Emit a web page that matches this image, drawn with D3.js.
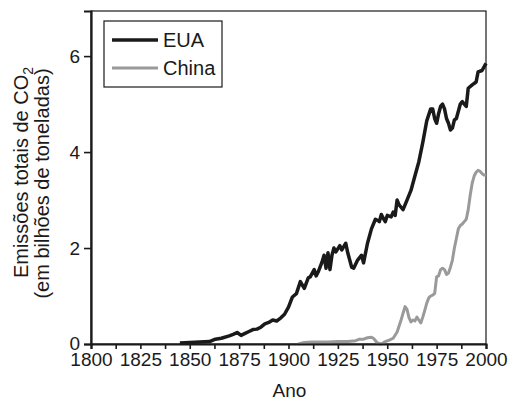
<!doctype html>
<meta charset="utf-8">
<title>Emissões de CO2</title>
<script src="https://cdn.jsdelivr.net/npm/d3@7"></script>
<style>
  body { margin: 0; background: #fff; }
  text { font-family: "Liberation Sans", Arial, sans-serif; fill: #1a1a1a; }
</style>
<body>
<div id="chart"></div>
<script>

// anos e valores (bilhões de toneladas)
var euaAnos = [1845, 1850, 1855, 1860, 1863, 1866, 1870, 1872, 1874, 1876, 1878, 1880, 1882, 1884, 1886, 1888,
  1890, 1892, 1894, 1896, 1898, 1900, 1902, 1904, 1906, 1908, 1910, 1911, 1913, 1914, 1915, 1917, 1918, 1919,
  1920, 1921, 1922, 1923, 1924, 1926, 1927, 1929, 1930, 1932, 1933, 1935, 1937, 1938, 1940, 1942, 1944, 1945,
  1946, 1947, 1948, 1949, 1950, 1952, 1953, 1954, 1955, 1956, 1957, 1958, 1960, 1962, 1964, 1966, 1968, 1970,
  1972, 1973, 1974, 1975, 1976, 1977, 1978, 1979, 1980, 1981, 1982, 1983, 1984, 1985, 1987, 1988, 1989, 1990,
  1991, 1993, 1995, 1996, 1998, 2000];
var euaValores = [0.02, 0.03, 0.04, 0.05, 0.1, 0.12, 0.17, 0.2, 0.24, 0.18, 0.22, 0.26, 0.3, 0.31, 0.35, 0.42,
  0.45, 0.5, 0.48, 0.54, 0.62, 0.77, 0.98, 1.05, 1.3, 1.16, 1.38, 1.4, 1.55, 1.42, 1.5, 1.71, 1.85, 1.58,
  1.9, 1.55, 1.85, 2.0, 1.92, 2.05, 1.96, 2.1, 1.9, 1.6, 1.58, 1.75, 1.85, 1.69, 2.1, 2.4, 2.6, 2.58,
  2.55, 2.7, 2.62, 2.55, 2.68, 2.65, 2.75, 2.68, 3.0, 2.9, 2.85, 2.8, 3.0, 3.2, 3.5, 3.8, 4.2, 4.65,
  4.9, 4.9, 4.7, 4.6, 4.8, 4.95, 5.0, 4.9, 4.7, 4.6, 4.46, 4.5, 4.67, 4.7, 5.0, 5.05, 5.0, 4.95,
  5.33, 5.4, 5.46, 5.67, 5.7, 5.85];

var chinaAnos = [1905, 1908, 1912, 1920, 1925, 1930, 1934, 1936, 1938, 1940, 1942, 1943, 1945, 1947, 1949, 1951,
  1953, 1955, 1957, 1959, 1960, 1961, 1962, 1963, 1964, 1965, 1966, 1967, 1968, 1969, 1970, 1971, 1972, 1973,
  1974, 1975, 1976, 1977, 1978, 1979, 1980, 1981, 1982, 1983, 1984, 1985, 1986, 1987, 1988, 1989, 1990, 1991,
  1992, 1993, 1994, 1995, 1996, 1997, 1998, 1999, 2000];
var chinaValores = [0.0, 0.03, 0.04, 0.04, 0.05, 0.05, 0.07, 0.1, 0.1, 0.13, 0.14, 0.12, 0.02, 0.0, 0.05, 0.08,
  0.12, 0.25, 0.5, 0.78, 0.72, 0.55, 0.46, 0.5, 0.48, 0.56, 0.5, 0.44, 0.56, 0.7, 0.85, 0.96, 1.0, 1.02,
  1.05, 1.4, 1.42, 1.55, 1.58, 1.55, 1.45, 1.48, 1.6, 1.75, 2.0, 2.2, 2.4, 2.47, 2.5, 2.55, 2.6, 2.8,
  3.1, 3.35, 3.5, 3.58, 3.62, 3.6, 3.55, 3.52, 3.52];

var xTicks = [1800, 1825, 1850, 1875, 1900, 1925, 1950, 1975, 2000];
var xMinorTicks = [1812.5, 1837.5, 1862.5, 1887.5, 1912.5, 1937.5, 1962.5, 1987.5];
var yTicks = [0, 2, 4, 6];
var series = [
  { nome: 'EUA', anos: euaAnos, valores: euaValores, cor: '#1a1a1a', largura: 3.5 },
  { nome: 'China', anos: chinaAnos, valores: chinaValores, cor: '#9a9a9a', largura: 3 }
];

var width = 508, height = 400
  , margin = { top: 11, right: 22, bottom: 56, left: 91 };

var svg = d3.select('#chart').append('svg')
  .attr('width', width)
  .attr('height', height);

var x = d3.scaleLinear().domain([1800, 2000]).range([margin.left, width - margin.right]);
var y = d3.scaleLinear().domain([0, 6.94]).range([height - margin.bottom, margin.top]);

// moldura
svg.append('rect')
  .attr('x', x(1800)).attr('y', y(6.94))
  .attr('width', x(2000) - x(1800)).attr('height', y(0) - y(6.94))
  .style('fill', 'none').style('stroke', '#1a1a1a').style('stroke-width', 1.2);

// linhas
var line = d3.line()
  .x(function(d) { return x(d[0]) })
  .y(function(d) { return y(d[1]) });

series.slice().reverse().forEach(function(s) {
  svg.append('path')
    .datum(d3.zip(s.anos, s.valores))
    .attr('d', line)
    .style('fill', 'none')
    .style('stroke', s.cor)
    .style('stroke-width', s.largura)
    .style('stroke-linejoin', 'round');
});

// eixos
svg.append('g')
  .attr('transform', 'translate(0,' + y(0) + ')')
  .call(d3.axisBottom(x).tickValues(xTicks).tickFormat(d3.format('d')).tickSize(5).tickPadding(4));
svg.append('g')
  .attr('transform', 'translate(0,' + y(0) + ')')
  .call(d3.axisBottom(x).tickValues(xMinorTicks).tickFormat('').tickSize(5))
  .select('.domain').remove();
svg.append('g')
  .attr('transform', 'translate(' + x(1800) + ',0)')
  .call(d3.axisLeft(y).tickValues(yTicks).tickFormat(d3.format('d')).tickSize(7).tickPadding(4));

svg.selectAll('.tick line').style('stroke', '#1a1a1a').style('stroke-width', 1.6);
svg.selectAll('.domain').style('stroke', '#1a1a1a').style('stroke-width', 2.2);
svg.selectAll('.tick text')
  .style('font-family', '"Liberation Sans", Arial, sans-serif')
  .style('font-size', '19px')
  .style('fill', '#1a1a1a');
// o "0" sobe um pouco para não tocar o "1800"
svg.selectAll('.tick text').filter(function(d) { return d === 0 }).attr('dy', '0.28em');

// títulos dos eixos
svg.append('text')
  .attr('x', (x(1800) + x(2000)) / 2 + 1)
  .attr('y', 397)
  .attr('text-anchor', 'middle')
  .style('font-size', '19px')
  .text('Ano');

var yl = svg.append('g')
  .attr('transform', 'translate(0,' + ((y(0) + y(6.94)) / 2) + ') rotate(-90)');
var t1 = yl.append('text')
  .attr('x', 5).attr('y', 28)
  .attr('text-anchor', 'middle')
  .style('font-size', '20px');
t1.append('tspan').text('Emissões totais de CO');
t1.append('tspan').attr('dy', 5).style('font-size', '14px').text('2');
yl.append('text')
  .attr('x', -6).attr('y', 49)
  .attr('text-anchor', 'middle')
  .style('font-size', '20px')
  .text('(em bilhões de toneladas)');

// legenda
var leg = svg.append('g').attr('transform', 'translate(104,21)');
leg.append('rect')
  .attr('width', 118).attr('height', 66)
  .style('fill', '#fff').style('stroke', '#1a1a1a').style('stroke-width', 1.2);
series.forEach(function(s, i) {
  var ly = 19 + i * 28;
  leg.append('line')
    .attr('x1', 8).attr('x2', 54).attr('y1', ly).attr('y2', ly)
    .style('stroke', s.cor).style('stroke-width', s.largura);
  leg.append('text')
    .attr('x', 59).attr('y', ly + 7)
    .style('font-size', '20px')
    .text(s.nome);
});

</script>
</body>
